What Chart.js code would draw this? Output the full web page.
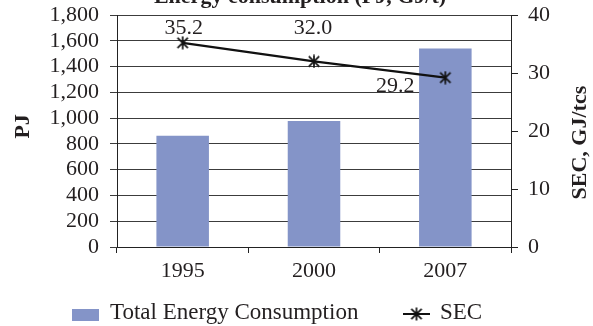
<!DOCTYPE html>
<html>
<head>
<meta charset="utf-8">
<script src="https://cdn.jsdelivr.net/npm/chart.js@4/dist/chart.umd.min.js"></script>
<style>
  html, body { margin: 0; padding: 0; background: #ffffff; }
  #wrap { width: 593px; height: 326px; position: relative; }
</style>
</head>
<body>
<div id="wrap"><canvas id="chart" width="593" height="326"></canvas></div>
<script>
// Steel sector energy use and specific energy consumption
const years = ['1995', '2000', '2007'];
const totalEnergyPJ = [863, 977, 1541];
const secGJperTcs = [35.2, 32.0, 29.2];
const energyTicks = [0, 200, 400, 600, 800, 1000, 1200, 1400, 1600, 1800];
const secTicks = [0, 10, 20, 30, 40];

const FONT = "'Liberation Serif', 'Times New Roman', serif";
const INK = '#231f20';
const BAR = '#8494c8';

// asterisk marker: vertical stroke plus two diagonals
function makeStar(size) {
  const c = document.createElement('canvas');
  c.width = size; c.height = size;
  const g = c.getContext('2d');
  const m = size / 2, r = size / 2 - 0.5;
  g.strokeStyle = '#111';
  g.lineWidth = 1.7;
  g.beginPath();
  g.moveTo(m, m - r); g.lineTo(m, m + r);
  const d = r * 0.8;
  g.moveTo(m - d, m - d); g.lineTo(m + d, m + d);
  g.moveTo(m - d, m + d); g.lineTo(m + d, m - d);
  g.stroke();
  return c;
}
const star = makeStar(14);

// value labels next to the SEC points
const valueLabels = {
  id: 'valueLabels',
  afterDatasetsDraw(chart, args, opts) {
    const ctx = chart.ctx;
    const meta = chart.getDatasetMeta(opts.datasetIndex);
    const data = chart.data.datasets[opts.datasetIndex].data;
    ctx.save();
    ctx.font = opts.font;
    ctx.fillStyle = INK;
    ctx.textAlign = 'center';
    ctx.textBaseline = 'middle';
    meta.data.forEach((pt, i) => {
      const o = opts.offsets[i];
      ctx.fillText(data[i].toFixed(1), pt.x + o.dx, pt.y + o.dy);
    });
    ctx.restore();
  }
};

// rotated axis titles, both reading bottom to top
const axisTitles = {
  id: 'axisTitles',
  afterDraw(chart, args, opts) {
    const ctx = chart.ctx;
    const a = chart.chartArea;
    ctx.save();
    ctx.font = opts.font;
    ctx.fillStyle = INK;
    ctx.textAlign = 'center';
    ctx.textBaseline = 'middle';
    opts.items.forEach(it => {
      ctx.save();
      ctx.translate(it.x, a.top + (a.bottom - a.top) * it.yFrac);
      ctx.rotate(-Math.PI / 2);
      ctx.fillText(it.text, 0, 0);
      ctx.restore();
    });
    // heading above the plot
    ctx.textBaseline = 'alphabetic';
    ctx.fillText(opts.heading.text, opts.heading.x, opts.heading.y);
    ctx.restore();
  }
};

// legend row under the axis
const bottomLegend = {
  id: 'bottomLegend',
  afterDraw(chart, args, opts) {
    const ctx = chart.ctx;
    const ds = chart.data.datasets;
    const y = opts.y;
    ctx.save();
    ctx.font = opts.font;
    ctx.fillStyle = INK;
    ctx.textBaseline = 'middle';
    // bar series swatch
    ctx.fillStyle = ds[0].backgroundColor;
    ctx.fillRect(opts.x0, y - 4, 27, 12);
    ctx.fillStyle = INK;
    ctx.fillText(ds[0].label, opts.x0 + 38, y);
    // line series sample
    ctx.strokeStyle = ds[1].borderColor;
    ctx.lineWidth = 2;
    ctx.beginPath();
    ctx.moveTo(opts.x1, y + 1); ctx.lineTo(opts.x1 + 27, y + 1);
    ctx.stroke();
    ctx.drawImage(star, opts.x1 + 13.5 - 7, y + 1 - 7);
    ctx.fillText(ds[1].label, opts.x1 + 37, y);
    ctx.restore();
  }
};

function fixWidth(w) {
  return s => { s.width = w; s.paddingTop = 0; s.paddingBottom = 0; };
}

new Chart(document.getElementById('chart'), {
  type: 'bar',
  data: {
    labels: years,
    datasets: [
      {
        type: 'bar',
        label: 'Total Energy Consumption',
        data: totalEnergyPJ,
        backgroundColor: BAR,
        borderWidth: 0,
        barPercentage: 0.4,
        categoryPercentage: 1.0,
        yAxisID: 'y',
        order: 1
      },
      {
        type: 'line',
        label: 'SEC',
        data: secGJperTcs,
        borderColor: '#111',
        borderWidth: 2.2,
        pointStyle: star,
        pointRadius: 7,
        fill: false,
        tension: 0,
        yAxisID: 'y1',
        order: 0
      }
    ]
  },
  options: {
    responsive: false,
    animation: false,
    devicePixelRatio: 1,
    layout: { padding: { top: 15, left: 0, right: 0, bottom: 0 } },
    plugins: {
      legend: { display: false },
      tooltip: { enabled: false },
      valueLabels: {
        datasetIndex: 1,
        font: '22px ' + FONT,
        offsets: [{ dx: 1, dy: -15 }, { dx: -1, dy: -33 }, { dx: -50, dy: 9 }]
      },
      axisTitles: {
        font: 'bold 22px ' + FONT,
        items: [
          { text: 'PJ', x: 23, yFrac: 0.48 },
          { text: 'SEC, GJ/tcs', x: 580, yFrac: 0.55 }
        ],
        heading: { text: 'Energy consumption (PJ, GJ/t)', x: 300, y: 3 }
      },
      bottomLegend: { font: '23px ' + FONT, x0: 72, x1: 403, y: 313 }
    },
    scales: {
      x: {
        offset: true,
        afterFit(s) { s.height = 79; },
        grid: {
          offset: true,
          drawOnChartArea: false,
          drawTicks: true,
          tickLength: 6,
          color: '#222',
          lineWidth: 1
        },
        border: { color: '#222', width: 1 },
        ticks: { color: INK, font: { family: FONT, size: 22 }, padding: 5 }
      },
      y: {
        position: 'left',
        min: 0,
        max: 1800,
        afterFit: fixWidth(117),
        afterBuildTicks(s) { s.ticks = energyTicks.map(v => ({ value: v })); },
        grid: { color: '#3c3c3c', lineWidth: 1, tickLength: 7, drawTicks: true },
        border: { color: '#222', width: 1 },
        ticks: {
          autoSkip: false,
          color: INK,
          font: { family: FONT, size: 22 },
          padding: 11,
          callback: v => v.toLocaleString('en-US')
        }
      },
      y1: {
        position: 'right',
        min: 0,
        max: 40,
        afterFit: fixWidth(82),
        afterBuildTicks(s) { s.ticks = secTicks.map(v => ({ value: v })); },
        grid: { drawOnChartArea: false, drawTicks: true, tickLength: 7, color: '#222' },
        border: { color: '#222', width: 1 },
        ticks: { autoSkip: false, color: INK, font: { family: FONT, size: 22 }, padding: 10 }
      }
    }
  },
  plugins: [valueLabels, axisTitles, bottomLegend]
});
</script>
</body>
</html>
